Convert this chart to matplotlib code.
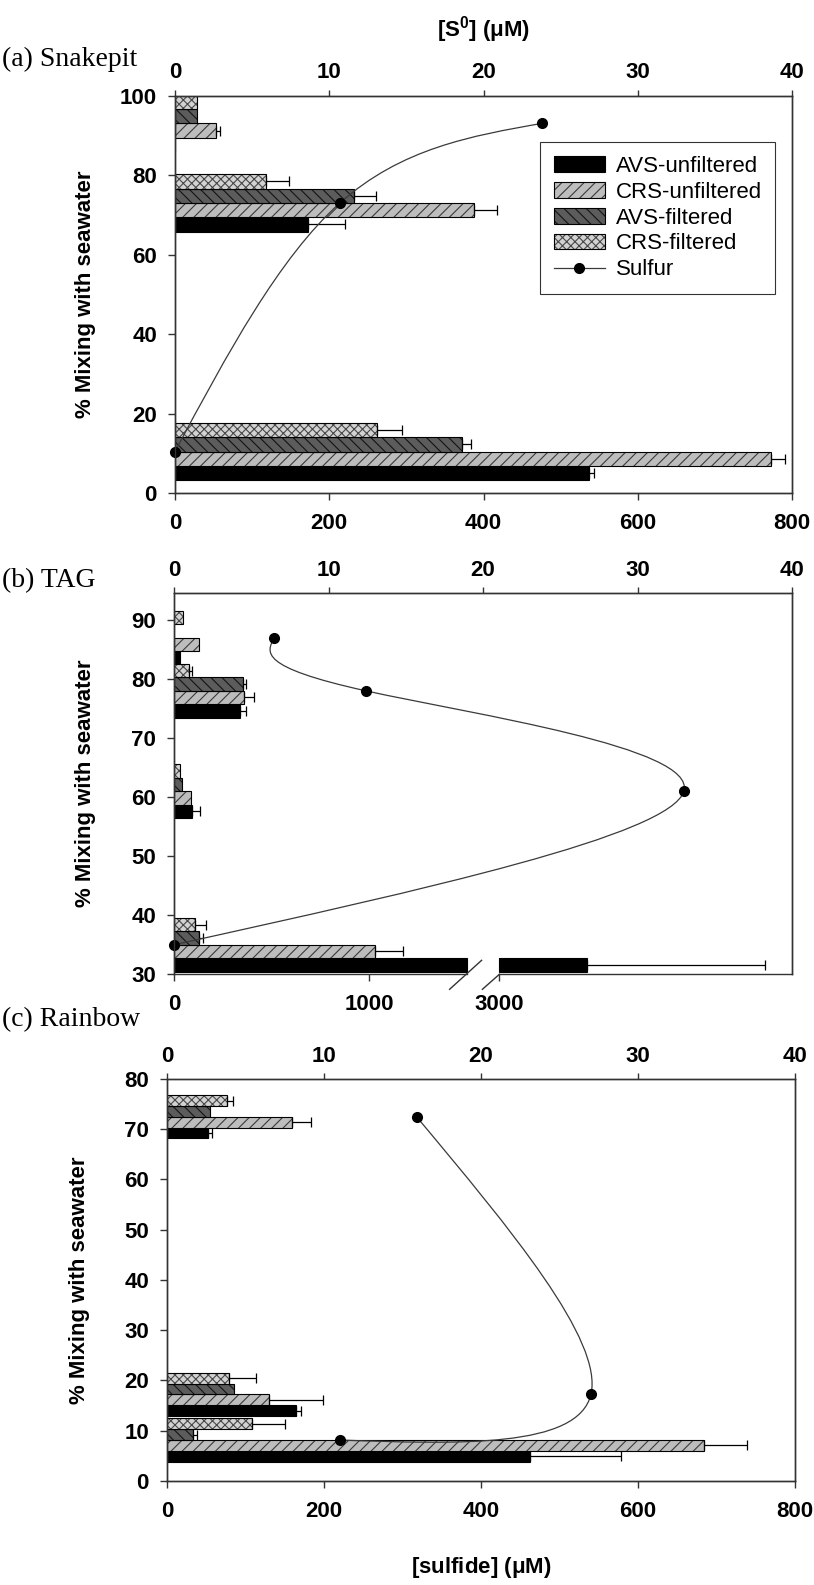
import matplotlib
matplotlib.use('Agg')
import matplotlib.pyplot as plt
import numpy as np
from matplotlib.lines import Line2D
from matplotlib.patches import Patch, PathPatch
from matplotlib.path import Path

W, H = 814, 1585
SANS = ['Liberation Sans', 'DejaVu Sans']
SERIF = ['Liberation Serif', 'DejaVu Serif']
plt.rcParams['font.family'] = SANS
plt.rcParams['font.weight'] = 'bold'
plt.rcParams['mathtext.fontset'] = 'custom'
plt.rcParams['mathtext.bf'] = 'Liberation Sans:bold'
plt.rcParams['mathtext.rm'] = 'Liberation Sans:bold'
plt.rcParams['hatch.linewidth'] = 0.8

SERIES = ['AVS-unfiltered', 'CRS-unfiltered', 'AVS-filtered', 'CRS-filtered']

# (a) Snakepit
snake_mix = [10.5, 73, 93]
snake_avs_unf = [537, 172, 0]
snake_avs_unf_err = [6, 49, 0]
snake_crs_unf = [773, 388, 53.5]
snake_crs_unf_err = [18, 30, 5]
snake_avs_f = [372, 232, 29]
snake_avs_f_err = [12, 29, 0]
snake_crs_f = [262, 118.6, 29]
snake_crs_f_err = [32, 29, 0]
snake_sulfur = [0, 10.7, 23.8]

# (b) TAG
tag_mix = [35, 61, 78, 87]
tag_avs_unf = [3450, 93, 339, 31]
tag_avs_unf_err = [910, 39, 31, 0]
tag_crs_unf = [1029, 89, 361, 128]
tag_crs_unf_err = [146, 0, 47, 0]
tag_avs_f = [128, 39, 353, 0]
tag_avs_f_err = [23, 0, 15, 0]
tag_crs_f = [108, 32, 79, 48]
tag_crs_f_err = [56, 0, 15, 0]
tag_sulfur = [0, 33.0, 12.4, 6.5]

# (c) Rainbow
rainbow_mix = [8.15, 17.2, 72.4]
rainbow_avs_unf = [463, 163.8, 52.5]
rainbow_avs_unf_err = [115, 7, 5]
rainbow_crs_unf = [684, 129.4, 159.8]
rainbow_crs_unf_err = [55, 69, 24]
rainbow_avs_f = [32.6, 85.7, 54.7]
rainbow_avs_f_err = [5.6, 0, 0]
rainbow_crs_f = [108.3, 78.5, 76.7]
rainbow_crs_f_err = [41.5, 35, 7.5]
rainbow_sulfur = [11.0, 27.0, 15.9]

# sulfide axis break for TAG
BRK = (1500, 3000)
GAP = 168

STYLES = {
    'AVS-unfiltered': dict(face='black', hatch=None, hcolor='black'),
    'CRS-unfiltered': dict(face='#bdbdbd', hatch='///', hcolor='#3a3a3a'),
    'AVS-filtered': dict(face='#5c5c5c', hatch='\\\\\\', hcolor='#141414'),
    'CRS-filtered': dict(face='#d2d2d2', hatch='xxxx', hcolor='#484848'),
}

fig = plt.figure(figsize=(W / 100, H / 100), dpi=100)


def make_axes(l, r, t, b):
    return fig.add_axes([l / W, 1 - b / H, (r - l) / W, (b - t) / H])


def spline_path(xs, ys):
    # natural cubic spline on a uniform parameter, as Bezier segments
    pts = np.column_stack([xs, ys]).astype(float)
    n = len(pts)
    A = np.zeros((n, n))
    rhs = np.zeros((n, 2))
    A[0, 0] = A[-1, -1] = 1
    for i in range(1, n - 1):
        A[i, i - 1:i + 2] = [1, 4, 1]
        rhs[i] = 6 * (pts[i + 1] - 2 * pts[i] + pts[i - 1])
    M = np.linalg.solve(A, rhs)
    verts = [pts[0]]
    codes = [Path.MOVETO]
    for i in range(n - 1):
        d0 = pts[i + 1] - pts[i] - (2 * M[i] + M[i + 1]) / 6
        d1 = pts[i + 1] - pts[i] + (M[i] + 2 * M[i + 1]) / 6
        verts += [pts[i] + d0 / 3, pts[i + 1] - d1 / 3, pts[i + 1]]
        codes += [Path.CURVE4] * 3
    return Path(verts, codes)


def draw_bars(ax, mix, values, errors, height, brk=None):
    mix = np.asarray(mix, float)
    for k, name in enumerate(SERIES):
        st = STYLES[name]
        y = mix + (k - 1.5) * height
        vals = np.asarray(values[k], float)
        errs = np.asarray(errors[k], float)
        segs = []
        for yi, v in zip(y, vals):
            if brk and v > brk[0]:
                segs += [(yi, 0, brk[0]), (yi, brk[1], v - brk[1])]
            else:
                segs.append((yi, 0, v))
        ys, lefts, widths = zip(*segs)
        ax.barh(ys, widths, height, left=lefts, color=st['face'],
                hatch=st['hatch'], edgecolor=st['hcolor'], linewidth=0)
        ax.barh(ys, widths, height, left=lefts, fill=False,
                edgecolor='black', linewidth=0.8)
        m = errs > 0
        ax.errorbar(vals[m], y[m], xerr=[np.zeros(m.sum()), errs[m]],
                    fmt='none', ecolor='black', elinewidth=0.9,
                    capsize=3.5, capthick=0.9)


def style_axes(ax, ax2):
    for a in (ax, ax2):
        for sp in a.spines.values():
            sp.set_color('#333333')
            sp.set_linewidth(1.0)
    ax.tick_params(axis='x', direction='out', length=5, width=1,
                   labelsize=16, pad=9.4, colors='#333333', labelcolor='black')
    ax.tick_params(axis='y', direction='out', length=5, width=1,
                   labelsize=16, pad=8, colors='#333333', labelcolor='black')
    ax2.tick_params(axis='x', direction='out', length=4.5, width=1,
                    labelsize=16, pad=4.2, colors='#333333', labelcolor='black')
    ax2.set_xlim(0, 40)
    ax2.set_xticks([0, 10, 20, 30, 40])


def draw_sulfur(ax2, sulfur, mix):
    ax2.add_patch(PathPatch(spline_path(sulfur, mix), fill=False,
                            edgecolor='#3a3a3a', linewidth=0.9))
    ax2.plot(sulfur, mix, 'o', color='black', markersize=7, clip_on=False)


def ylabel(x, t, b):
    fig.text(x / W, 1 - (t + b) / 2 / H, '% Mixing with seawater',
             rotation=90, ha='center', va='center', fontsize=16)


def title(text, y):
    fig.text(2 / W, 1 - y / H, text, family=SERIF, weight='normal',
             fontsize=20, va='baseline', ha='left')


# ---- (a) Snakepit
la, ra, ta, ba = 175, 792, 95.5, 493.3
ax = make_axes(la, ra, ta, ba)
ax2 = ax.twiny()
draw_bars(ax, snake_mix,
          [snake_avs_unf, snake_crs_unf, snake_avs_f, snake_crs_f],
          [snake_avs_unf_err, snake_crs_unf_err, snake_avs_f_err, snake_crs_f_err],
          3.6)
ax.set_xlim(0, 800)
ax.set_ylim(0, 100)
ax.set_xticks(range(0, 801, 200))
ax.set_yticks(range(0, 101, 20))
style_axes(ax, ax2)
draw_sulfur(ax2, snake_sulfur, snake_mix)
ylabel(86, ta, ba)
title('(a) Snakepit', 66)
fig.text((la + ra) / 2 / W, 1 - 30 / H, r'[S$^{\mathbf{0}}$] ($\mathbf{\mu}$M)',
         ha='center', va='center', fontsize=16)

handles = []
for name in SERIES:
    st = STYLES[name]
    handles.append((Patch(facecolor=st['face'], hatch=st['hatch'],
                          edgecolor=st['hcolor'], linewidth=0),
                    Patch(fill=False, edgecolor='black', linewidth=0.8)))
handles.append(Line2D([], [], color='#3a3a3a', lw=0.9, marker='o',
                      markersize=7, markerfacecolor='black',
                      markeredgecolor='black'))
leg = ax2.legend(handles, SERIES + ['Sulfur'], loc='upper left',
                 bbox_to_anchor=(0.592, 0.882), borderaxespad=0,
                 prop={'family': SANS, 'weight': 'normal', 'size': 16},
                 frameon=True, fancybox=False, handlelength=2.3,
                 handleheight=0.7, handletextpad=0.5, labelspacing=0.22,
                 borderpad=0.6)
leg.get_frame().set_edgecolor('black')
leg.get_frame().set_linewidth(0.8)

# ---- (b) TAG, sulfide axis broken between 1500 and 3000


def fwd(x):
    x = np.asarray(x, float)
    mid = BRK[0] + (x - BRK[0]) * GAP / (BRK[1] - BRK[0])
    return np.where(x <= BRK[0], x,
                    np.where(x >= BRK[1], x - BRK[1] + BRK[0] + GAP, mid))


def inv(p):
    p = np.asarray(p, float)
    mid = BRK[0] + (p - BRK[0]) * (BRK[1] - BRK[0]) / GAP
    return np.where(p <= BRK[0], p,
                    np.where(p >= BRK[0] + GAP, p - BRK[0] - GAP + BRK[1], mid))


lb, rb, tb, bb = 174, 792, 592.7, 974.3
ax = make_axes(lb, rb, tb, bb)
ax.set_xscale('function', functions=(fwd, inv))
ax2 = ax.twiny()
draw_bars(ax, tag_mix,
          [tag_avs_unf, tag_crs_unf, tag_avs_f, tag_crs_f],
          [tag_avs_unf_err, tag_crs_unf_err, tag_avs_f_err, tag_crs_f_err],
          2.27, brk=BRK)
ax.set_xlim(0, 4500)
ax.set_ylim(30, 94.6)
ax.set_xticks([0, 1000, 3000])
ax.set_xticklabels(['0', '1000', '3000'])
ax.set_yticks(range(30, 91, 10))
style_axes(ax, ax2)
draw_sulfur(ax2, tag_sulfur, tag_mix)
ylabel(86, tb, bb)
title('(b) TAG', 587)

# split bottom spine and break marks
ax.spines['bottom'].set_visible(False)
ax2.spines['bottom'].set_visible(False)
xt = ax.get_xaxis_transform()
for x0, x1 in [(0, BRK[0]), (BRK[1], 4500)]:
    ax.plot([x0, x1], [0, 0], transform=xt, color='#333333', lw=1.0,
            clip_on=False, zorder=5)
to_fig = fig.transFigure.inverted()
for bx, (dx0, dy0, dx1, dy1) in [(BRK[0], (-17, -15, 15, 14)),
                                 (BRK[1], (-17, -15, 0, 0))]:
    px, py = ax.transData.transform((bx, 30))
    p0 = to_fig.transform((px + dx0, py + dy0))
    p1 = to_fig.transform((px + dx1, py + dy1))
    fig.add_artist(Line2D([p0[0], p1[0]], [p0[1], p1[1]], color='#333333',
                          lw=1.0, transform=fig.transFigure))

# ---- (c) Rainbow
lc, rc, tc, bc = 167, 795, 1078.6, 1481
ax = make_axes(lc, rc, tc, bc)
ax2 = ax.twiny()
draw_bars(ax, rainbow_mix,
          [rainbow_avs_unf, rainbow_crs_unf, rainbow_avs_f, rainbow_crs_f],
          [rainbow_avs_unf_err, rainbow_crs_unf_err, rainbow_avs_f_err,
           rainbow_crs_f_err],
          2.15)
ax.set_xlim(0, 800)
ax.set_ylim(0, 80)
ax.set_xticks(range(0, 801, 200))
ax.set_yticks(range(0, 81, 10))
style_axes(ax, ax2)
draw_sulfur(ax2, rainbow_sulfur, rainbow_mix)
ylabel(80, tc, bc)
title('(c) Rainbow', 1026)
fig.text((lc + rc) / 2 / W, 1 - 1568 / H, r'[sulfide] ($\mathbf{\mu}$M)',
         ha='center', va='center', fontsize=16)

fig.savefig('out.png', dpi=100)
